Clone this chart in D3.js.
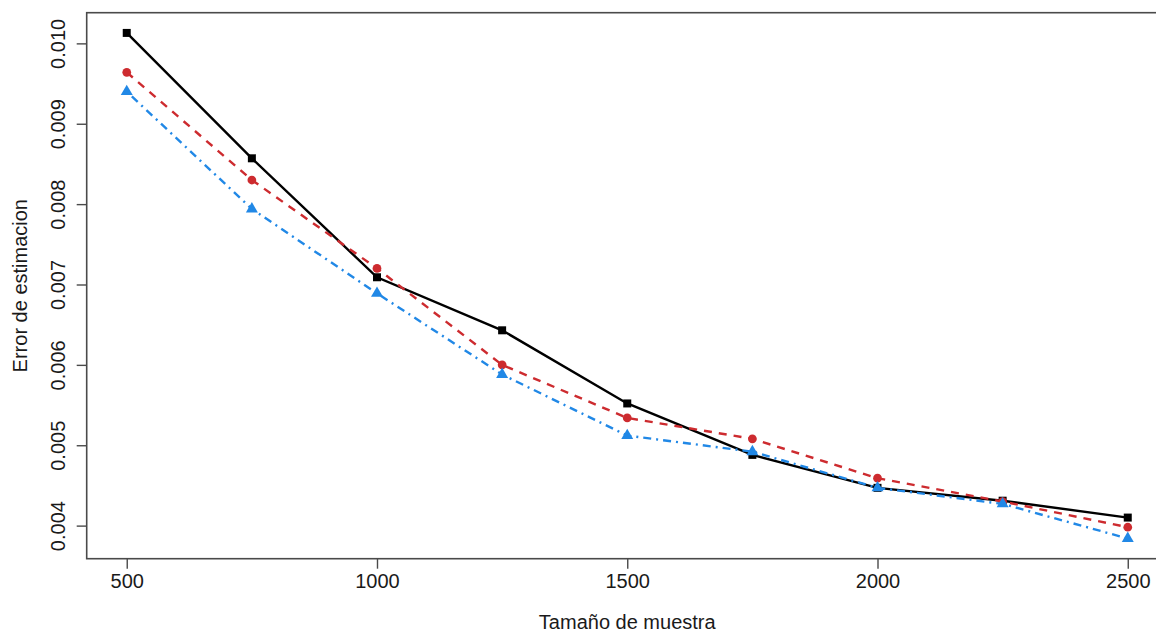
<!DOCTYPE html>
<html>
<head>
<meta charset="utf-8">
<script src="https://cdn.jsdelivr.net/npm/d3@7"></script>
<style>
  html, body { margin: 0; padding: 0; background: #fff; }
  svg { display: block; }
  text { font-family: "Liberation Sans", Arial, Helvetica, sans-serif; fill: #1a1a1a; }
</style>
</head>
<body>
<svg id="chart" width="1156" height="633"></svg>
<script>
// ---- data ----
const sampleSizes = [500, 750, 1000, 1250, 1500, 1750, 2000, 2250, 2500];
const seriesBlack = [0.01013, 0.00857, 0.00709, 0.00643, 0.00552, 0.00488, 0.00447, 0.00431, 0.00410];
const seriesRed   = [0.00964, 0.00830, 0.00720, 0.00600, 0.00534, 0.00508, 0.00459, 0.00430, 0.00398];
const seriesBlue  = [0.00940, 0.00794, 0.00689, 0.00588, 0.00512, 0.00492, 0.00447, 0.00427, 0.00384];
const xTicks = [500, 1000, 1500, 2000, 2500];
const yTicks = [0.004, 0.005, 0.006, 0.007, 0.008, 0.009, 0.010];
const xTitle = "Tamaño de muestra";
const yTitle = "Error de estimacion";

// ---- layout ----
const W = 1156, H = 633;
const plot = { left: 86.7, right: 1167.8, top: 12.7, bottom: 558.7 };
const FS = 20;

const svg = d3.select("#chart");

// R-style 4% padding
function pad(ext) { const r = ext[1] - ext[0]; return [ext[0] - 0.04 * r, ext[1] + 0.04 * r]; }
const xDom = pad(d3.extent(sampleSizes));
const yDom = pad(d3.extent([...seriesBlack, ...seriesRed, ...seriesBlue]));

const x = d3.scaleLinear().domain(xDom).range([plot.left, plot.right]);
const y = d3.scaleLinear().domain(yDom).range([plot.bottom, plot.top]);

// box
svg.append("rect")
  .attr("x", plot.left).attr("y", plot.top)
  .attr("width", plot.right - plot.left).attr("height", plot.bottom - plot.top)
  .attr("fill", "none").attr("stroke", "#4a4a4a").attr("stroke-width", 1.6);

// x axis
const xAxis = d3.axisBottom(x).tickValues(xTicks).tickSize(10).tickPadding(5)
  .tickFormat(d3.format("d"));
const gx = svg.append("g").attr("transform", `translate(0,${plot.bottom})`).call(xAxis);
gx.select(".domain").remove();
gx.selectAll(".tick line").attr("stroke", "#4a4a4a").attr("stroke-width", 1.4);
gx.selectAll(".tick text").attr("font-size", FS).attr("fill", "#1a1a1a")
  .style("font-family", '"Liberation Sans", Arial, sans-serif');

// y axis
const yAxis = d3.axisLeft(y).tickValues(yTicks).tickSize(10).tickFormat(d3.format(".3f"));
const gy = svg.append("g").attr("transform", `translate(${plot.left},0)`).call(yAxis);
gy.select(".domain").remove();
gy.selectAll(".tick line").attr("stroke", "#4a4a4a").attr("stroke-width", 1.4);
gy.selectAll(".tick text")
  .attr("x", null).attr("dy", null)
  .attr("font-size", FS).attr("fill", "#1a1a1a")
  .style("font-family", '"Liberation Sans", Arial, sans-serif')
  .attr("text-anchor", "middle")
  .attr("transform", "translate(-22,0) rotate(-90)");

// titles
svg.append("text")
  .attr("x", (plot.left + plot.right) / 2).attr("y", 629)
  .attr("text-anchor", "middle").attr("font-size", FS)
  .text(xTitle);
svg.append("text")
  .attr("transform", `translate(27,${(plot.top + plot.bottom) / 2}) rotate(-90)`)
  .attr("text-anchor", "middle").attr("font-size", FS)
  .text(yTitle);

const line = d3.line().x(d => x(d[0])).y(d => y(d[1]));
const series = [
  { vals: seriesBlack, color: "#000000", dash: null, symbol: d3.symbolSquare, size: 64 },
  { vals: seriesRed,   color: "#cd2b2f", dash: "8,7", symbol: d3.symbolCircle, size: 60 },
  { vals: seriesBlue,  color: "#2188e6", dash: "2,5,8,5", symbol: d3.symbolTriangle, size: 62 }
];

series.forEach(s => {
  const pts = sampleSizes.map((v, i) => [v, s.vals[i]]);
  svg.append("path")
    .datum(pts)
    .attr("d", line)
    .attr("fill", "none")
    .attr("stroke", s.color)
    .attr("stroke-width", 2.4)
    .attr("stroke-dasharray", s.dash);
  svg.append("g").selectAll("path")
    .data(pts).join("path")
    .attr("transform", d => `translate(${x(d[0])},${y(d[1])})`)
    .attr("d", d3.symbol().type(s.symbol).size(s.size))
    .attr("fill", s.color);
});
</script>
</body>
</html>
